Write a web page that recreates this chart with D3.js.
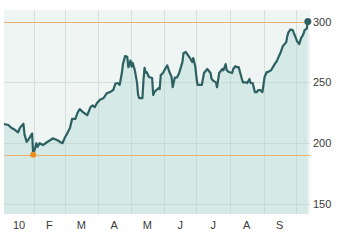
<!DOCTYPE html>
<html>
<head>
<meta charset="utf-8">
<script src="https://cdn.jsdelivr.net/npm/d3@7"></script>
<style>
  html, body { margin: 0; padding: 0; background: #fff; }
  svg { display: block; }
  text { font-family: "Liberation Sans", Arial, sans-serif; font-size: 11px; fill: #3a3a3a; }
</style>
</head>
<body>
<svg class="chart"></svg>
<script>
// closing prices, 2010
var dates = [
  "2010-01-04","2010-01-08","2010-01-11","2010-01-14","2010-01-17","2010-01-19","2010-01-22","2010-01-23",
  "2010-01-25","2010-01-28","2010-01-30","2010-01-31","2010-02-03","2010-02-04","2010-02-06","2010-02-09",
  "2010-02-13","2010-02-16","2010-02-18","2010-02-22","2010-02-25","2010-02-27","2010-03-01","2010-03-04",
  "2010-03-06","2010-03-08","2010-03-11","2010-03-13","2010-03-15","2010-03-18","2010-03-22","2010-03-25",
  "2010-03-27","2010-03-29","2010-03-31","2010-04-03","2010-04-06","2010-04-09","2010-04-12","2010-04-15",
  "2010-04-17","2010-04-19","2010-04-21","2010-04-23","2010-04-24","2010-04-26","2010-04-28","2010-04-29",
  "2010-05-01","2010-05-02","2010-05-03","2010-05-05","2010-05-07","2010-05-08","2010-05-09","2010-05-12",
  "2010-05-13","2010-05-14","2010-05-15","2010-05-16","2010-05-18","2010-05-21","2010-05-22","2010-05-23",
  "2010-05-25","2010-05-27","2010-05-28","2010-05-29","2010-05-31","2010-06-03","2010-06-04","2010-06-06",
  "2010-06-08","2010-06-09","2010-06-11","2010-06-13","2010-06-15","2010-06-18","2010-06-19","2010-06-21",
  "2010-06-23","2010-06-25","2010-06-27","2010-06-28","2010-06-30","2010-07-01","2010-07-02","2010-07-06",
  "2010-07-08","2010-07-10","2010-07-11","2010-07-14","2010-07-15","2010-07-17","2010-07-19","2010-07-20",
  "2010-07-22","2010-07-25","2010-07-26","2010-07-28","2010-07-29","2010-07-31","2010-08-03","2010-08-04",
  "2010-08-06","2010-08-07","2010-08-09","2010-08-12","2010-08-13","2010-08-16","2010-08-17","2010-08-19",
  "2010-08-20","2010-08-22","2010-08-24","2010-08-26","2010-08-27","2010-08-29","2010-08-31","2010-09-02",
  "2010-09-04","2010-09-05","2010-09-08","2010-09-10","2010-09-12","2010-09-13","2010-09-15","2010-09-17",
  "2010-09-19","2010-09-22","2010-09-23","2010-09-24","2010-09-26","2010-09-28","2010-09-29","2010-10-01",
  "2010-10-02","2010-10-04","2010-10-06","2010-10-07","2010-10-08","2010-10-09","2010-10-11","2010-10-12"
];
var prices = [
  215.8, 215, 212.5, 211, 209, 213, 216, 207,
  201, 205, 208, 190.5, 200, 197, 200, 198.5,
  201, 202.6, 204, 202.6, 201, 200, 204, 209,
  212.5, 220, 220, 225, 228, 225.6, 223, 229.7,
  231, 229.7, 233, 236, 237, 241, 242, 243.7,
  249, 249.5, 248, 257.7, 265, 271.6, 271, 262.6,
  268, 263, 266, 260, 250, 240, 237, 237,
  252, 262, 258, 258.5, 254.4, 253.6, 239.6, 242,
  243.7, 245.3, 244.5, 256, 257.7, 262.6, 264, 258.5,
  254.4, 246, 254, 254, 257.7, 266.7, 274, 275,
  272.5, 270, 266.7, 270, 262.6, 254, 248, 248,
  257.7, 260, 261, 257.7, 252.8, 251, 250, 246,
  257.7, 261, 260, 265, 260, 258.5, 257.7, 261,
  263.4, 262.6, 262.6, 252.8, 250, 250, 249.5, 252.8,
  249.5, 249.5, 242, 242, 243.7, 243.7, 242, 254.4,
  258.5, 258.5, 260, 263, 266, 267, 271, 275,
  280, 283, 288, 291, 293.5, 293, 290.6, 286.4,
  284, 281.5, 287, 288, 290, 293, 294, 300
];
var yTicks = [150, 200, 250, 300];
var monthLabels = ["10", "F", "M", "A", "M", "J", "J", "A", "S"];

var width = 343;
var height = 240;
var plotLeft = 4, plotRight = 310, plotTop = 10, plotBottom = 214;

var parse = d3.timeParse("%Y-%m-%d");
var data = dates.map(function(d, i) { return { date: parse(d), value: prices[i] }; });

var startDate = parse("2010-01-04");
var endDate = parse("2010-10-14");

var x = d3.scaleTime().domain([startDate, endDate]).range([plotLeft, plotRight]);
var y = d3.scaleLinear().domain([141.8, 309.5]).range([plotBottom, plotTop]);

// snap thin lines to the pixel grid
function crisp(v) { return Math.round(v) + 0.5; }

var svg = d3.select(".chart")
  .attr("width", width)
  .attr("height", height);

// background of plot
svg.append("rect")
  .attr("x", plotLeft).attr("y", plotTop)
  .attr("width", plotRight - plotLeft).attr("height", plotBottom - plotTop)
  .attr("fill", "#eff5f2");

// area under line
var area = d3.area()
  .x(function(d) { return x(d.date); })
  .y0(plotBottom)
  .y1(function(d) { return y(d.value); });

svg.append("path")
  .datum(data)
  .attr("d", area)
  .attr("fill", "#d5e9e6");

// grid
var months = d3.timeMonth.range(d3.timeMonth.ceil(startDate), endDate);
svg.append("g")
  .selectAll("line")
  .data(months)
  .enter()
  .append("line")
    .attr("x1", function(d) { return crisp(x(d)); })
    .attr("x2", function(d) { return crisp(x(d)); })
    .attr("y1", plotTop)
    .attr("y2", plotBottom)
    .attr("stroke", "#b9d0c8")
    .attr("stroke-opacity", 0.55)
    .attr("stroke-width", 1);

svg.append("g")
  .selectAll("line")
  .data(yTicks)
  .enter()
  .append("line")
    .attr("x1", plotLeft)
    .attr("x2", plotRight)
    .attr("y1", function(d) { return crisp(y(d)); })
    .attr("y2", function(d) { return crisp(y(d)); })
    .attr("stroke", "#b9d0c8")
    .attr("stroke-opacity", 0.55)
    .attr("stroke-width", 1);

// high / low reference lines
var maxPt = data.reduce(function(a, b) { return b.value > a.value ? b : a; });
var minPt = data.reduce(function(a, b) { return b.value < a.value ? b : a; });

svg.append("g")
  .selectAll("line")
  .data([maxPt, minPt])
  .enter()
  .append("line")
    .attr("x1", plotLeft)
    .attr("x2", plotRight)
    .attr("y1", function(d) { return crisp(y(d.value)); })
    .attr("y2", function(d) { return crisp(y(d.value)); })
    .attr("stroke", "#eeb06e")
    .attr("stroke-width", 1);

// price line
var line = d3.line()
  .x(function(d) { return x(d.date); })
  .y(function(d) { return y(d.value); });

svg.append("path")
  .datum(data)
  .attr("d", line)
  .attr("fill", "none")
  .attr("stroke", "#2c6062")
  .attr("stroke-width", 2.2)
  .attr("stroke-linejoin", "round");

svg.append("circle")
  .attr("cx", x(minPt.date))
  .attr("cy", y(minPt.value))
  .attr("r", 3)
  .attr("fill", "#f0901e");

var last = data[data.length - 1];
svg.append("circle")
  .attr("cx", x(last.date))
  .attr("cy", y(last.value))
  .attr("r", 3.5)
  .attr("fill", "#2c6062");

// y labels
svg.append("g")
  .selectAll("text")
  .data(yTicks)
  .enter()
  .append("text")
    .attr("x", plotRight + 3)
    .attr("y", function(d) { return y(d) + 4; })
    .text(function(d) { return d; });

// month labels, centred in each visible month
var monthStarts = d3.timeMonth.range(d3.timeMonth.floor(startDate), d3.timeMonth.offset(startDate, 9));
svg.append("g")
  .selectAll("text")
  .data(monthStarts)
  .enter()
  .append("text")
    .attr("text-anchor", "middle")
    .attr("x", function(d) {
      var a = Math.max(x(d), plotLeft);
      var b = x(d3.timeMonth.offset(d, 1));
      return (a + b) / 2;
    })
    .attr("y", 229)
    .text(function(d, i) { return monthLabels[i]; });
</script>
</body>
</html>
